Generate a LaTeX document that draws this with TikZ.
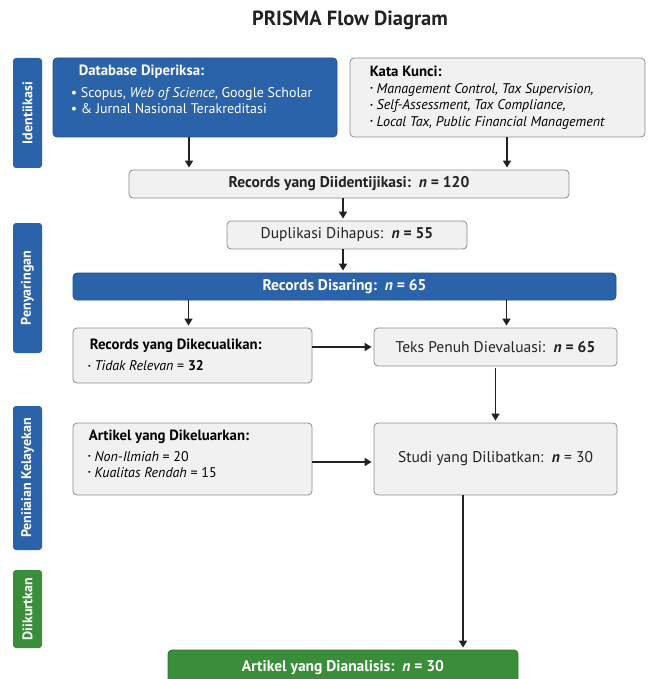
\documentclass[tikz,border=0pt]{standalone}
\usepackage{fontspec}
\setmainfont{PT Sans}
\usetikzlibrary{positioning,arrows.meta}
\definecolor{prblue}{HTML}{2B63AB}
\definecolor{prgreen}{HTML}{3A8E3A}
\definecolor{prgray}{HTML}{F1F1F1}
\definecolor{prline}{HTML}{8C8C8C}
\definecolor{prtext}{HTML}{222222}
\newcommand{\pdot}{\raisebox{.35ex}{\scriptsize•}}

\begin{document}
\begin{tikzpicture}[x=1pt,y=-1pt,
        graybox/.style={draw=prline,fill=prgray,rounded corners=4pt,line width=0.8pt,inner sep=0pt,text=prtext},
        bluebox/.style={draw=prblue!80!black,fill=prblue,rounded corners=4pt,line width=0.8pt,inner sep=0pt,text=white},
        greenbox/.style={draw=prgreen!80!black,fill=prgreen,rounded corners=4pt,line width=0.8pt,inner sep=0pt,text=white},
        phase/.style={rounded corners=3pt,minimum height=29pt,inner sep=0pt,text=white,rotate=90,font=\bfseries\fontsize{14}{16}\selectfont},
        head/.style={anchor=west,inner sep=0pt,font=\bfseries\fontsize{14.8}{17}\selectfont},
        items/.style={anchor=north west,inner sep=0pt,align=left,font=\fontsize{14}{16.5}\selectfont},
        mid/.style={font=\bfseries\fontsize{15.5}{17}\selectfont},
        plain/.style={font=\fontsize{15.5}{17}\selectfont},
        arr/.style={-{Triangle[length=7pt,width=8pt]},line width=1.6pt,draw=prtext,shorten >=2pt}]
                \useasboundingbox[fill=white] (0,0) rectangle (652,679);
                \node[font=\bfseries\fontsize{20.5}{22}\selectfont,text=prtext] (title) at (350,20) {PRISMA Flow Diagram};

                \node[phase,fill=prblue,minimum width=110pt] (ph1) at (27.5,113) {Identiikasi};
                \node[phase,fill=prblue,minimum width=130pt] (ph2) at (27.5,288) {Penyaringan};
                \node[phase,fill=prblue,minimum width=144pt] (ph3) at (27.5,478) {Peniiaian Kelayekan};
                \node[phase,fill=prgreen,minimum width=78pt] (ph4) at (27.5,609) {Diikurtkan};

                \node[bluebox,minimum width=284pt,minimum height=79pt] (db) at (195,97.5) {};
                \node[head,text=white] (dbhead) at ([shift={(26,14)}]db.north west) {Database Diperiksa:};
                \node[items,text=white] (dblist) at ([shift={(18,29.5)}]db.north west) {• Scopus, \textit{Web of Science}, Google Scholar\\• \& Jurnal Nasional Terakreditasi};

                \node[graybox,minimum width=295pt,minimum height=79pt] (kw) at (497.5,97.5) {};
                \node[head] (kwhead) at ([shift={(20,14)}]kw.north west) {Kata Kunci:};
                \node[items,font=\itshape\fontsize{14}{16.5}\selectfont] (kwlist) at ([shift={(20,25.5)}]kw.north west) {\pdot{} Management Control, Tax Supervision,\\\pdot{} Self-Assessment, Tax Compliance,\\\pdot{} Local Tax, Public Financial Management};

                \node[graybox,mid,minimum width=440pt,minimum height=28pt] (rec) at (349,184) {Records yang Diidentijikasi:~~\textit{n} = 120};
                \node[graybox,plain,minimum width=240pt,minimum height=28pt] (dup) at (347,235) {Duplikasi Dihapus:~~\textbf{\textit{n} = 55}};
                \node[bluebox,mid,minimum width=543pt,minimum height=27pt] (scr) at (344.5,286.5) {Records Disaring:~~\textit{n} = 65};

                \node[graybox,minimum width=239pt,minimum height=55pt] (exc) at (192.5,355.5) {};
                \node[head] (exchead) at ([shift={(17,18)}]exc.north west) {Records yang Dikecualikan:};
                \node[items] (exclist) at ([shift={(15,33)}]exc.north west) {\pdot{} \textit{Tidak Relevan} = \textbf{32}};
                \node[graybox,plain,minimum width=243pt,minimum height=38pt] (full) at (495.5,347) {Teks Penuh Dievaluasi:~~\textbf{\textit{n} = 65}};

                \node[graybox,minimum width=239pt,minimum height=72pt] (exl) at (192.5,459) {};
                \node[head] (exlhead) at ([shift={(16,14)}]exl.north west) {Artikel yang Dikeluarkan:};
                \node[items,font=\fontsize{14}{16}\selectfont] (exllist) at ([shift={(15,28.5)}]exl.north west) {\pdot{} \textit{Non-Ilmiah} = 20\\\pdot{} \textit{Kualitas Rendah} = 15};
                \node[graybox,plain,minimum width=243pt,minimum height=72pt] (inc) at (495.5,459) {Studi yang Dilibatkan:~~\textbf{\textit{n}} = 30};

                \node[greenbox,mid,minimum width=350pt,minimum height=36pt] (ana) at (343,668) {Artikel yang Dianalisis:~~\textit{n} = 30};

                \draw[arr] ([xshift=-6pt]db.south) -- ([xshift=-6pt]db.south |- rec.north);
                \draw[arr] ([xshift=9.5pt]kw.south) -- ([xshift=9.5pt]kw.south |- rec.north);
                \draw[arr] ([xshift=-6pt]rec.south) -- ([xshift=-6pt]rec.south |- dup.north);
                \draw[arr] ([xshift=-4pt]dup.south) -- ([xshift=-4pt]dup.south |- scr.north);
                \draw[arr] ([xshift=-4pt]exc.north |- scr.south) -- ([xshift=-4pt]exc.north);
                \draw[arr] ([xshift=11pt]full.north |- scr.south) -- ([xshift=11pt]full.north);
                \draw[arr] (exc.east |- full.west) -- (full.west);
                \draw[arr,shorten <=2pt] (full.south) -- (inc.north);
                \draw[arr] ([yshift=-3pt]exl.east) -- ([yshift=-3pt]inc.west);
                \draw[arr] ([xshift=-32.5pt]inc.south) -- ([xshift=-32.5pt]inc.south |- ana.north);
            \end{tikzpicture}
\end{document}
